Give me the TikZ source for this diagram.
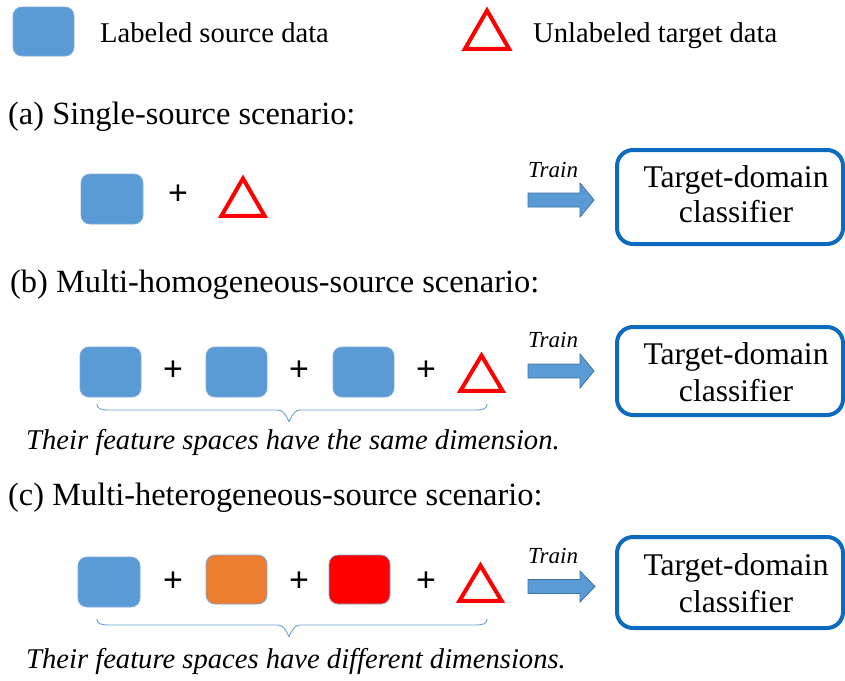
\documentclass[tikz,border=0pt]{standalone}
\usepackage{fontspec}
\setmainfont{Liberation Serif}
\newfontfamily\plusfont{Liberation Sans}
\definecolor{srcblue}{HTML}{5B9BD5}
\definecolor{boxedge}{HTML}{7FAADB}
\definecolor{orangebox}{HTML}{ED7D31}
\definecolor{redbox}{HTML}{FF0000}
\definecolor{clsblue}{HTML}{0C6BBE}
\definecolor{arrowedge}{HTML}{41719C}
\definecolor{braceblue}{HTML}{6B9FD6}
\begin{document}
\begin{tikzpicture}[x=1pt,y=-1pt,
  srcbox/.style={rectangle, rounded corners=9pt, draw=boxedge, line width=0.8pt, inner sep=0pt, fill=srcblue},
  lbl/.style={inner sep=0pt, font=\fontsize{28.6}{34}\selectfont},
  head/.style={inner sep=0pt, font=\fontsize{32.4}{38}\selectfont},
  clstext/.style={inner sep=0pt, font=\fontsize{31.6}{38}\selectfont},
  traintext/.style={inner sep=0pt, font=\fontsize{23}{28}\selectfont\itshape},
  bracetext/.style={inner sep=0pt, font=\fontsize{28.6}{34}\selectfont\itshape},
  plus/.style={inner sep=0pt, font=\fontsize{34}{40}\selectfont\plusfont},
  tri/.style={draw=red, line width=4pt, line join=miter},
  cls/.style={rectangle, rounded corners=16pt, draw=clsblue, line width=4pt, minimum width=226pt, inner sep=0pt},
  blockarrow/.style={fill=srcblue, draw=arrowedge, line width=0.8pt},
  bracestyle/.style={draw=braceblue, line width=0.9pt}
]
\useasboundingbox (0,0) rectangle (845,680);

% legend
\node[srcbox, minimum width=61pt, minimum height=49pt] (legbox) at (43.5,31.5) {};
\node[lbl, anchor=base west] (legsrc) at (100,42) {Labeled source data};
\draw[tri] (487,10.5) -- (509,48.75) -- (465,48.75) -- cycle;
\node[lbl, anchor=base west] (legtgt) at (533,42) {Unlabeled target data};

% (a)
\node[head, anchor=base west] (ha) at (8,124) {(a) Single-source scenario:};
\node[srcbox, minimum width=62pt, minimum height=50pt] (a1) at (112,199) {};
\node[plus] (ap1) at (178,194.5) {+};
\draw[tri] (243,178.5) -- (264.5,215.75) -- (221.5,215.75) -- cycle;
\node[traintext, anchor=base west] (atrain) at (528,177) {Train};
\draw[blockarrow] (528,193) -- (580,193) -- (580,183) -- (594,200) -- (580,217) -- (580,207) -- (528,207) -- cycle;
\node[cls, minimum height=94pt] (acls) at (730,197) {};
\node[clstext, anchor=base] (acls1) at (736,187) {Target-domain};
\node[clstext, anchor=base] (acls2) at (736,222) {classifier};

% (b)
\node[head, anchor=base west] (hb) at (10,292) {(b) Multi-homogeneous-source scenario:};
\node[srcbox, minimum width=61pt, minimum height=50pt] (b1) at (110.5,372) {};
\node[plus] (bp1) at (173,371) {+};
\node[srcbox, minimum width=61pt, minimum height=50pt] (b2) at (236.5,372) {};
\node[plus] (bp2) at (299,371) {+};
\node[srcbox, minimum width=61pt, minimum height=50pt] (b3) at (363.5,372) {};
\node[plus] (bp3) at (426,371) {+};
\draw[tri] (481.5,355.5) -- (502.5,390.75) -- (460.5,390.75) -- cycle;
\node[traintext, anchor=base west] (btrain) at (528,347) {Train};
\draw[blockarrow] (528,364) -- (580,364) -- (580,354) -- (594,371) -- (580,388) -- (580,378) -- (528,378) -- cycle;
\node[cls, minimum height=88pt] (bcls) at (730,371) {};
\node[clstext, anchor=base] (bcls1) at (736,364) {Target-domain};
\node[clstext, anchor=base] (bcls2) at (736,401) {classifier};
\draw[bracestyle] (97,404) .. controls (97,409) and (101,410) .. (110,410) -- (278,410) .. controls (283,410) and (286,415) .. (289,421.5) .. controls (292,415) and (295,410) .. (300,410) -- (474,410) .. controls (483,410) and (487,409) .. (487,404);
\node[bracetext, anchor=base west] (btxt) at (26,449) {Their feature spaces have the same dimension.};

% (c)
\node[head, anchor=base west] (hc) at (8,505) {(c) Multi-heterogeneous-source scenario:};
\node[srcbox, minimum width=62pt, minimum height=50pt] (c1) at (109,582) {};
\node[plus] (cp1) at (173,582) {+};
\node[srcbox, minimum width=61pt, minimum height=49pt, fill=orangebox] (c2) at (236.5,579.5) {};
\node[plus] (cp2) at (299,582) {+};
\node[srcbox, minimum width=61pt, minimum height=49pt, fill=redbox] (c3) at (359.5,579.5) {};
\node[plus] (cp3) at (426,582) {+};
\draw[tri] (480.5,565.5) -- (501.5,600.75) -- (459.5,600.75) -- cycle;
\node[traintext, anchor=base west] (ctrain) at (528,563) {Train};
\draw[blockarrow] (528,579.5) -- (580,579.5) -- (580,571) -- (595,586.5) -- (580,602) -- (580,593.5) -- (528,593.5) -- cycle;
\node[cls, minimum height=91pt] (ccls) at (730,582.5) {};
\node[clstext, anchor=base] (ccls1) at (736,575) {Target-domain};
\node[clstext, anchor=base] (ccls2) at (736,612) {classifier};
\draw[bracestyle] (97,619) .. controls (97,624) and (101,625) .. (110,625) -- (278,625) .. controls (283,625) and (286,630) .. (289,636.5) .. controls (292,630) and (295,625) .. (300,625) -- (474,625) .. controls (483,625) and (487,624) .. (487,619);
\node[bracetext, anchor=base west] (ctxt) at (26,668) {Their feature spaces have different dimensions.};
\end{tikzpicture}
\end{document}
